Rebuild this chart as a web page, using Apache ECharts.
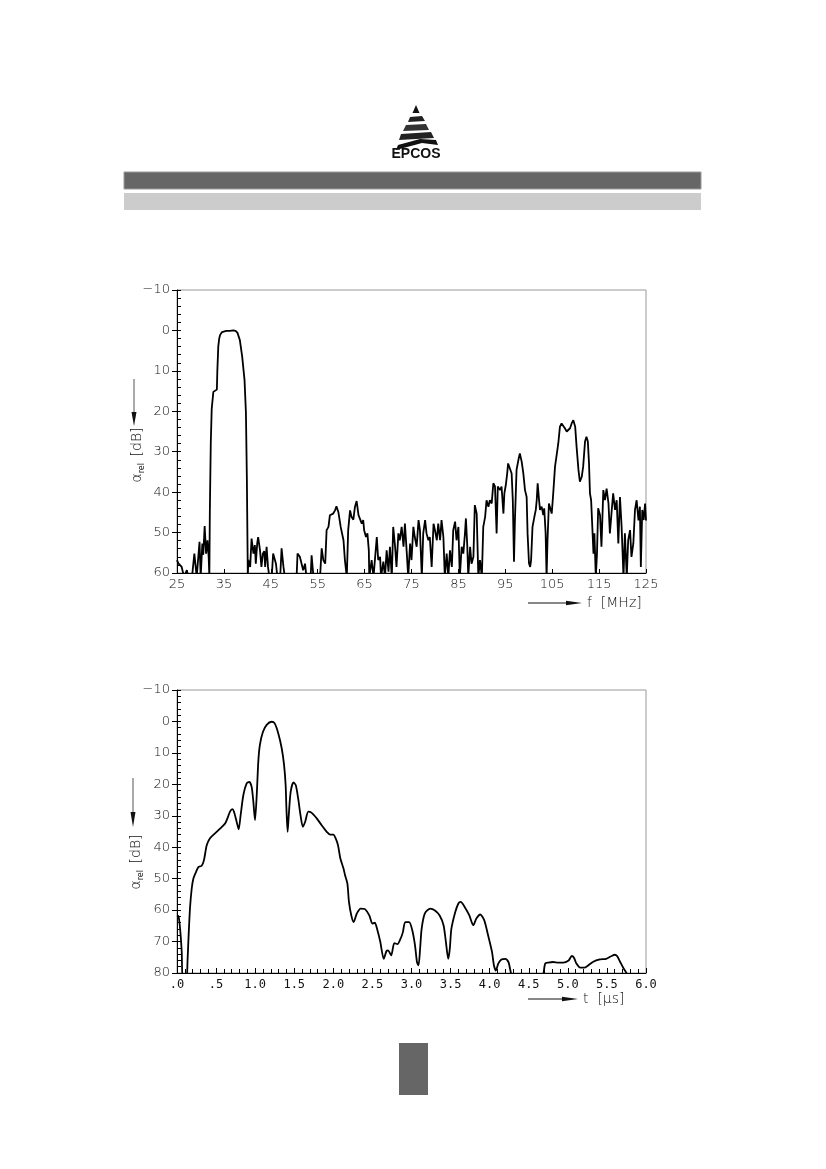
<!DOCTYPE html>
<html><head><meta charset="utf-8">
<script src="https://cdn.jsdelivr.net/npm/echarts@6/dist/echarts.min.js"></script>
<style>html,body{margin:0;padding:0;background:#fff}#c{width:826px;height:1169px}</style>
</head><body><div id="c"></div>
<script>
// ---- Chart 1: relative attenuation vs frequency ----
const freqMHz = [25.0,25.3,25.6,26.0,26.5,27.1,27.4,28.2,28.7,29.2,29.8,30.05,30.4,30.6,30.9,31.2,31.5,31.75,31.9,32.0,32.2,32.4,32.75,33.1,33.5,33.6,33.8,34.0,34.2,34.6,34.9,35.5,36.3,37.0,37.5,37.9,38.4,38.9,39.4,39.7,39.9,40.1,
40.2,40.6,40.9,41.3,41.6,41.8,42.1,42.3,42.7,43.0,43.3,43.6,43.8,44.1,44.4,44.7,45.2,45.5,46.1,46.4,47.0,47.3,47.7,48.0,50.5,50.7,51.2,51.6,51.9,52.3,52.6,53.5,53.7,54.1,55.5,55.85,56.2,56.6,56.9,57.3,57.6,58.3,58.7,59.0,59.4,59.9,60.2,60.5,60.8,61.2,61.5,61.9,62.2,62.6,62.95,63.3,63.7,64.0,64.4,64.7,64.9,65.3,65.6,65.9,66.0,66.5,66.9,67.6,67.9,68.3,68.5,69.0,69.35,69.7,70.1,70.4,70.8,
71.1,71.5,71.8,72.2,72.5,72.9,73.3,73.6,74.0,74.3,74.7,75.0,75.4,75.7,76.1,76.5,76.8,77.2,77.5,77.9,78.2,78.6,78.9,79.3,79.7,80.0,80.4,80.7,81.1,81.4,81.8,82.1,82.5,82.85,83.2,83.6,83.9,84.3,84.6,85.0,85.3,85.7,86.05,86.4,86.6,86.9,87.1,87.5,87.8,88.2,88.5,88.9,89.25,89.6,90.0,90.3,90.7,
91.0,91.4,91.7,92.1,92.45,92.8,93.15,93.4,93.65,93.9,94.2,94.6,94.8,95.1,95.4,95.6,96.0,96.35,96.6,96.85,97.05,97.4,97.8,98.1,98.5,98.85,99.2,99.55,99.75,100.05,100.3,100.5,100.8,101.2,101.5,101.7,101.9,102.2,102.4,102.75,103.1,103.3,103.6,103.8,104.0,104.3,104.7,104.9,105.2,105.6,106.0,106.3,106.65,107.0,107.4,107.7,108.1,108.4,108.8,109.15,109.5,109.9,110.2,110.6,110.9,111.3,111.6,112.0,112.3,112.6,112.85,113.05,113.3,113.55,113.8,114.0,114.3,114.55,114.8,115.2,115.5,115.9,116.25,116.6,117.0,117.3,117.7,118.0,118.4,118.75,119.1,119.45,119.8,120.2,120.5,120.9,121.2,121.6,121.9,122.3,122.65,123.0,123.4,123.7,123.9,124.2,124.5,124.8,125.0];
const attFreqDB = [56.8,57.6,57.2,58.5,61,59.3,61,61,55.2,61,52.3,61,52.7,55.5,48.4,55.2,51.9,56.0,61,45,28,19.4,15.2,14.8,14.6,10,4.0,2.0,1.1,0.4,0.2,0.1,0.1,0.0,0.1,0.6,2.4,6.5,12.3,20.5,37,61,
56.8,58.5,51.5,55.2,53.1,57.7,52.7,51.1,54.4,58.5,55.2,54.6,58.5,53.5,58.5,61,61,55.2,57.7,61,61,53.9,58.5,61,61,55.2,56.0,55.6,59.3,57.7,61,61,55.6,61,61,53.9,56.8,57.7,49.4,48.6,45.7,45.3,44.5,43.5,44.9,48.6,48.6,51.9,56.8,61,49.4,44.5,46.1,46.8,43.6,42.2,45.7,46.1,47.8,46.9,49.4,51.1,50.2,54.4,61,56.8,61,51.1,56.8,56.0,61,57.2,61,54.4,59.7,53.5,61,
48.6,53.5,58.5,50.2,51.9,48.6,53.5,47.8,55.2,61,52.7,56.8,48.6,51.1,53.5,46.9,49.4,61,50.2,46.9,50.2,51.9,51.1,58.5,47.8,49.4,51.9,47.8,51.9,46.9,51.1,61,55.2,61,54.4,58.5,49.4,47.3,51.9,48.6,61,53.5,55.2,50.2,46.5,53.5,61,53.5,57.7,56.0,43.2,45.3,61,56.8,61,48.6,46.1,
42.0,43.6,42.0,42.8,37.8,38.6,50.2,38.6,38.5,39.5,38.6,45.3,40.3,38.3,35.4,32.9,32.5,35.4,42.0,57.2,47.0,34.5,32.0,30.4,32.5,35.4,39.5,41.2,50.2,57.6,58.5,56.8,48.6,46.1,44.4,42.0,37.8,42.0,44.4,43.6,45.7,44.0,50.2,61,51.9,42.8,42.4,45.3,40.6,33.7,30.4,27.9,23.8,23.0,22.6,24.2,25.0,24.6,24.2,23.0,22.2,23.8,28.8,34.5,37.4,36.2,33.7,27.5,26.3,27.5,32.9,40.3,42.0,48.6,55.2,50.2,61,55.2,44.0,45.7,53.5,39.5,42.0,39.1,42.8,50.2,44.4,40.3,44.4,42.0,52.7,41.2,48.6,61,50.2,61,51.9,49.4,56.0,52.7,44.4,42.0,47.0,43.6,58.5,44.4,46.9,42.8,47.0];
const freqTicks = [25,35,45,55,65,75,85,95,105,115,125];
const freqTickLabels = ['25','35','45','55','65','75','85','95','105','115','125'];
const attTicks1 = [-10,0,10,20,30,40,50,60];
const attTickLabels1 = ['\u221210','0','10','20','30','40','50','60'];

// ---- Chart 2: relative attenuation vs time ----
const timeUs = [0.00,0.02,0.04,0.06,0.075,0.12,0.135,0.145,0.166,0.188,0.209,0.243,0.273,0.316,0.345,0.38,0.42,0.486,0.55,0.614,0.644,0.678,0.708,0.729,0.763,0.789,0.814,0.849,0.891,0.925,0.955,0.977,0.998,1.02,1.04,1.06,1.10,1.147,1.21,1.25,1.296,1.34,1.37,1.39,1.40,1.415,1.43,1.454,1.49,1.52,1.55,1.58,1.61,1.64,1.68,1.72,1.79,1.85,1.915,1.96,2.00,2.03,2.06,2.09,2.13,2.15,2.18,2.20,2.23,2.26,2.30,2.35,2.405,2.46,2.50,2.53,2.56,2.60,2.645,2.68,2.70,2.74,2.78,2.82,2.86,2.89,2.92,2.97,3.01,3.045,3.07,3.09,3.11,3.13,3.17,3.24,3.30,3.36,3.41,3.44,3.47,3.49,3.51,3.56,3.60,3.63,3.68,3.74,3.79,3.83,3.88,3.93,3.98,4.03,4.055,4.08,4.11,4.15,4.20,4.24,4.26,4.28,4.30,4.67,4.69,4.71,4.75,4.81,4.88,4.94,5.01,5.05,5.08,5.11,5.16,5.21,5.26,5.32,5.41,5.49,5.56,5.60,5.63,5.67,5.71,5.75,5.78,6.0];
const attTimeDB = [61.7,62,66,73,82,82,76,70.1,59.5,53.2,50.0,47.9,46.3,45.9,44.1,39.4,37.2,35.6,34.1,32.5,30.9,28.7,27.9,28.7,31.9,34.3,29.8,23.4,19.7,19.2,20.8,25.6,31.4,23.4,12.8,7.5,3.3,1.1,0.1,0.6,3.8,8.6,13.9,20.3,27.7,35.1,29.8,22.4,19.4,20.3,24.5,29.8,33.5,31.9,28.7,29.0,30.9,33.0,35.1,36.0,36.0,37.2,39.4,43.6,46.8,48.9,51.6,57.4,61.7,63.8,61.1,59.5,59.7,61.7,64.3,64.0,66.0,70.0,75.5,73.0,72.8,74.4,70.5,70.8,69.1,67.0,63.8,63.8,66.4,71.2,76.5,77.6,72.3,65.9,61.1,59.5,60.1,61.7,64.8,70.1,75.5,72.3,66,60.6,57.9,57.4,59.0,61.7,64.8,62.7,61.4,63.2,68.0,73.3,77.6,79.2,77.0,75.7,75.5,76.5,78.6,80.8,82,82,80,77.0,76.7,76.5,76.7,76.7,76.0,74.6,75.2,77.0,78.3,78.3,77.6,76.5,75.7,75.5,74.6,74.2,74.6,76.5,78.4,80,82,82];
const timeTicks = [0,0.5,1,1.5,2,2.5,3,3.5,4,4.5,5,5.5,6];
const timeTickLabels = ['.0','.5','1.0','1.5','2.0','2.5','3.0','3.5','4.0','4.5','5.0','5.5','6.0'];
const attTicks2 = [-10,0,10,20,30,40,50,60,70,80];
const attTickLabels2 = ['\u221210','0','10','20','30','40','50','60','70','80'];

const zip = (xs, ys) => xs.map((x, i) => [x, ys[i]]);
const FONT = 'DejaVu Sans';
const TXT = '#111';
const labelOf = (ticks, labels) => v => { const i = ticks.findIndex(t => Math.abs(t - v) < 1e-6); return i >= 0 ? labels[i] : ''; };

const G1 = {left:177, top:290, width:469, height:283};
const G2 = {left:177, top:690, width:469, height:283};

function mainY(gi, min, max, ticks, labels) {
  return {type:'value', gridIndex:gi, inverse:true, min:min, max:max, interval:10,
    axisLine:{show:true, lineStyle:{color:'#000', width:1}},
    axisTick:{show:true, inside:false, length:5, lineStyle:{color:'#000'}},
    axisLabel:{show:true, margin:7, fontSize:13, color:TXT, fontFamily:FONT, fontWeight:200, formatter:labelOf(ticks, labels)},
    splitLine:{show:false}};
}
function minorY(gi, min, max) {
  return {type:'value', gridIndex:gi, inverse:true, min:min, max:max, interval:2, position:'left',
    axisLine:{show:false}, axisTick:{show:true, inside:true, length:4, lineStyle:{color:'#000'}},
    axisLabel:{show:false}, splitLine:{show:false}};
}
const nameRich = {a:{fontSize:14, fontFamily:FONT, fontWeight:200, lineHeight:18, fill:TXT}, s:{fontSize:8, fontFamily:FONT, lineHeight:8, verticalAlign:'bottom', fill:TXT}};

const graphics = [
  // header bars
  {type:'rect', shape:{x:124, y:172, width:577, height:17}, style:{fill:'#666666', stroke:'#9a9a9a', lineWidth:1}},
  {type:'rect', shape:{x:124, y:193, width:577, height:17}, style:{fill:'#cccccc'}},
  // logo
  {type:'polygon', shape:{points:[[416,105],[412.5,113],[419.5,113]]}, style:{fill:'#111'}},
  {type:'polygon', shape:{points:[[410,117],[422,116],[425,121],[408,122]]}, style:{fill:'#222'}},
  {type:'polygon', shape:{points:[[406,125],[426,124],[429,130],[403,131]]}, style:{fill:'#333'}},
  {type:'polygon', shape:{points:[[401,134],[431,132],[434,138],[399,140]]}, style:{fill:'#222'}},
  {type:'polygon', shape:{points:[[398,145],[420,139],[436,140],[438,145],[422,143],[396,150]]}, style:{fill:'#111'}},
  {type:'text', x:416, y:154, style:{text:'EPCOS', fill:'#111', font:'bold 14px "Liberation Sans"', align:'center', verticalAlign:'middle'}},
  // page box
  {type:'rect', shape:{x:399, y:1043, width:29, height:52}, style:{fill:'#666666'}},
  // chart 1 axis names
  {type:'line', shape:{x1:134, y1:379, x2:134, y2:414}, style:{stroke:'#555', lineWidth:1}},
  {type:'polygon', shape:{points:[[131.5,412],[136.5,412],[134,426]]}, style:{fill:'#111'}},
  {type:'text', x:137, y:455, rotation:Math.PI/2,
    style:{text:'{a|\u03b1}{s|rel}  {a|[dB]}', align:'center', verticalAlign:'middle', fill:TXT, rich:nameRich}},
  {type:'line', shape:{x1:528, y1:603, x2:570, y2:603}, style:{stroke:'#111', lineWidth:1}},
  {type:'polygon', shape:{points:[[566,600.8],[582,603],[566,605.2]]}, style:{fill:'#111'}},
  {type:'text', x:587, y:603, style:{text:'f  [MHz]', font:'200 14px "DejaVu Sans"', fill:TXT, align:'left', verticalAlign:'middle'}},
  // chart 2 axis names
  {type:'line', shape:{x1:133, y1:778, x2:133, y2:814}, style:{stroke:'#555', lineWidth:1}},
  {type:'polygon', shape:{points:[[130.5,812],[135.5,812],[133,827]]}, style:{fill:'#111'}},
  {type:'text', x:136, y:862, rotation:Math.PI/2,
    style:{text:'{a|\u03b1}{s|rel}  {a|[dB]}', align:'center', verticalAlign:'middle', fill:TXT, rich:nameRich}},
  {type:'line', shape:{x1:528, y1:999, x2:565, y2:999}, style:{stroke:'#111', lineWidth:1}},
  {type:'polygon', shape:{points:[[562,996.8],[578,999],[562,1001.2]]}, style:{fill:'#111'}},
  {type:'text', x:583, y:999, style:{text:'t  [\u00b5s]', font:'200 14px "DejaVu Sans"', fill:TXT, align:'left', verticalAlign:'middle'}}
];

const option = {
  animation:false,
  backgroundColor:'#fff',
  grid:[
    Object.assign({show:true, borderColor:'#999', borderWidth:1, backgroundColor:'transparent', containLabel:false}, G1),
    Object.assign({show:true, borderColor:'#999', borderWidth:1, backgroundColor:'transparent', containLabel:false}, G2)
  ],
  xAxis:[
    {type:'value', gridIndex:0, min:25, max:125, interval:10,
      axisLine:{show:true, onZero:false, lineStyle:{color:'#000', width:1}},
      axisTick:{show:true, inside:true, length:4, customValues:freqTicks, lineStyle:{color:'#000'}},
      axisLabel:{show:true, margin:5, fontSize:13, color:TXT, fontFamily:FONT, fontWeight:200, customValues:freqTicks, formatter:labelOf(freqTicks, freqTickLabels)},
      splitLine:{show:false}},
    {type:'value', gridIndex:1, min:0, max:6, interval:0.5,
      axisLine:{show:true, onZero:false, lineStyle:{color:'#000', width:1}},
      axisTick:{show:true, inside:true, length:5, lineStyle:{color:'#000'}},
      minorTick:{show:true, splitNumber:5, length:4, lineStyle:{color:'#000'}},
      axisLabel:{show:true, margin:6, fontSize:12, color:TXT, fontFamily:'DejaVu Sans Mono', fontWeight:200, formatter:labelOf(timeTicks, timeTickLabels)},
      splitLine:{show:false}, minorSplitLine:{show:false}}
  ],
  yAxis:[
    mainY(0, -10, 60, attTicks1, attTickLabels1),
    minorY(0, -10, 60),
    mainY(1, -10, 80, attTicks2, attTickLabels2),
    minorY(1, -10, 80)
  ],
  series:[
    {type:'line', xAxisIndex:0, yAxisIndex:0, data:zip(freqMHz, attFreqDB), showSymbol:false, symbol:'none', clip:true,
      lineStyle:{color:'#000', width:1.8}},
    {type:'line', xAxisIndex:1, yAxisIndex:2, data:zip(timeUs, attTimeDB), showSymbol:false, symbol:'none', clip:true, smooth:0.25,
      lineStyle:{color:'#000', width:1.8}}
  ],
  graphic:graphics
};
const chart = echarts.init(document.getElementById('c'), null, {renderer:'canvas'});
chart.setOption(option);
</script>
</body></html>
